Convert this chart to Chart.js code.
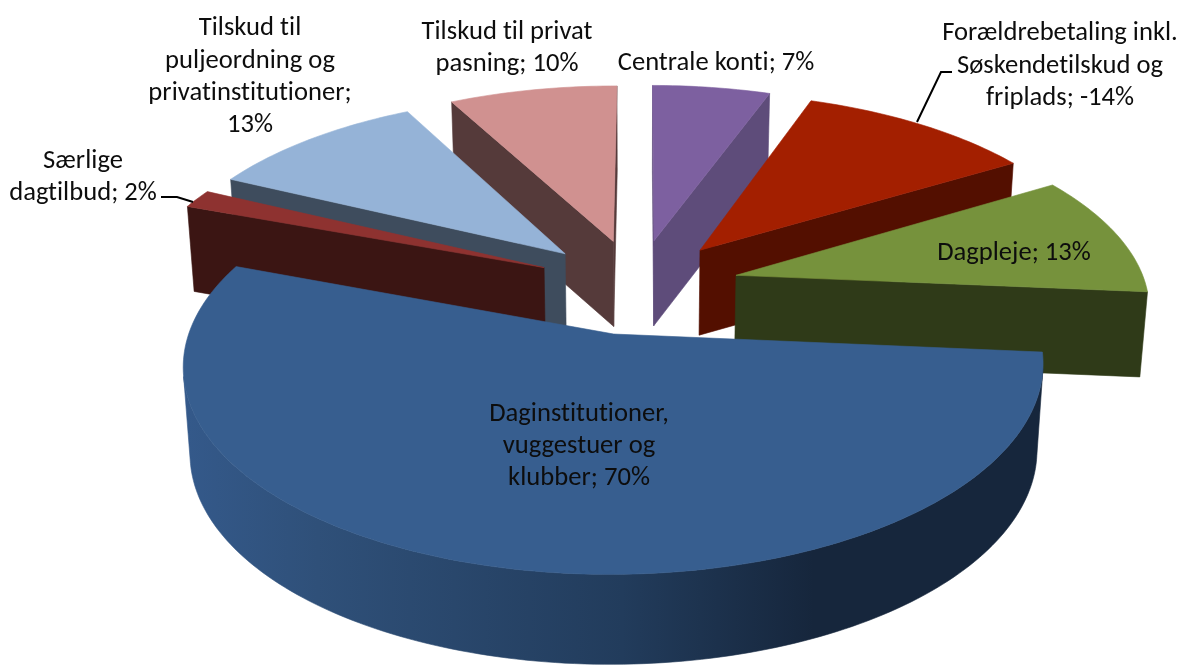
<!DOCTYPE html>
<html><head><meta charset="utf-8">
<style>html,body{margin:0;padding:0;background:#fff}canvas{display:block}</style>
<script src="https://cdn.jsdelivr.net/npm/chart.js@4/dist/chart.umd.min.js"></script>
</head><body><canvas id="c" width="1181" height="666"></canvas>
<script>
const categories = ["Daginstitutioner, vuggestuer og klubber","Særlige dagtilbud","Tilskud til puljeordning og privatinstitutioner","Tilskud til privat pasning","Centrale konti","Forældrebetaling inkl. Søskendetilskud og friplads","Dagpleje"];
const signedPercent = [70,2,13,10,7,-14,13];
const sliceSize = signedPercent.map(Math.abs);
const topColors = ["#375e8f","#8e3230","#95b3d7","#d09190","#7d60a0","#a31f00","#76923c"];
const wallColors = ["#223c5e","#3b1513","#3e4c5d","#553a3a","#5e4c7a","#530f00","#2f3a18"];
const labelLines = [
 [["Daginstitutioner,",579,414.5],["vuggestuer og",579,446.5],["klubber; 70%",579,478.5]],
 [["Særlige",83,161.5],["dagtilbud; 2%",83,193.5]],
 [["Tilskud til",250,28.5],["puljeordning og",250,61.5],["privatinstitutioner;",250,93.5],["13%",250,125.5]],
 [["Tilskud til privat",507,32.5],["pasning; 10%",507,64.5]],
 [["Centrale konti; 7%",716,63.5]],
 [["Forældrebetaling inkl.",1060,33.5],["Søskendetilskud og",1060,66.5],["friplads; -14%",1060,98.5]],
 [["Dagpleje; 13%",1014,253.5]]
];
const leaderLines = [[[161,197],[177,197],[193,202]],[[952,72],[941,72],[917,122]]];
const view = {dx:46.5,dy:-47,kx:410/333,ky:190/333,persp:0.145,explode:0.25,wall:85,wallFront:4,taper:0.015};

const pie3d = {
  id:'pie3d',
  beforeDatasetsDraw(chart){
    const ctx = chart.ctx, arcs = chart.getDatasetMeta(0).data;
    const r0 = arcs[0].outerRadius, cx = arcs[0].x+view.dx, cy = arcs[0].y+view.dy;
    const A = r0*view.kx, B = r0*view.ky;
    const proj = (u,v,z)=>{const s=1/(1-view.persp*v);
      return [cx+A*u*s*(1-view.taper*z), cy+B*v*s+(view.wall+view.wallFront*Math.max(v,0))*z];};
    const slices = arcs.map((a,i)=>{const m=(a.startAngle+a.endAngle)/2;
      return {i,a0:a.startAngle,a1:a.endAngle,ox:view.explode*Math.cos(m),oy:view.explode*Math.sin(m)};});
    slices.sort((p,q)=>Math.sin((p.a0+p.a1)/2)-Math.sin((q.a0+q.a1)/2));
    const poly=(pts,fill)=>{ctx.beginPath();pts.forEach((p,k)=>k?ctx.lineTo(p[0],p[1]):ctx.moveTo(p[0],p[1]));ctx.closePath();
      ctx.fillStyle=fill;ctx.strokeStyle=fill;ctx.lineWidth=0.6;ctx.fill();ctx.stroke();};
    const area=q=>{let s=0;q.forEach((p,k)=>{const n=q[(k+1)%q.length];s+=p[0]*n[1]-n[0]*p[1];});return s;};
    const blueGrad=ctx.createLinearGradient(cx-450,0,cx+420,0);
    blueGrad.addColorStop(0,"#34598a");blueGrad.addColorStop(0.15,"#2f5079");blueGrad.addColorStop(0.5,"#223c5c");
    blueGrad.addColorStop(0.72,"#16263c");blueGrad.addColorStop(1,"#16263c");
    ctx.save();
    slices.forEach(sl=>{
      const pt=(t,z)=>proj(sl.ox+Math.cos(t),sl.oy+Math.sin(t),z), tip=z=>proj(sl.ox,sl.oy,z);
      const n=Math.ceil((sl.a1-sl.a0)/0.02), rim=[];
      for(let k=0;k<=n;k++)rim.push(sl.a0+(sl.a1-sl.a0)*k/n);
      const wall=wallColors[sl.i];
      const faces=[[tip(0),pt(sl.a0,0),pt(sl.a0,1),tip(1)],[pt(sl.a1,0),tip(0),tip(1),pt(sl.a1,1)]];
      faces.forEach(q=>{if(area(q)<0)poly(q,wall);});
      let run=[];
      const flush=()=>{if(run.length>1)poly([...run.map(t=>pt(t,0)),...run.slice().reverse().map(t=>pt(t,1))],sl.i===0?blueGrad:wall);run=[];};
      for(let k=0;k<n;k++){const q=[pt(rim[k],0),pt(rim[k+1],0),pt(rim[k+1],1),pt(rim[k],1)];
        if(area(q)<0){if(!run.length)run.push(rim[k]);run.push(rim[k+1]);}else flush();}
      flush();
      poly([tip(0),...rim.map(t=>pt(t,0))],topColors[sl.i]);
    });
    ctx.strokeStyle="#000";ctx.lineWidth=2;
    leaderLines.forEach(l=>{ctx.beginPath();l.forEach((p,k)=>k?ctx.lineTo(p[0],p[1]):ctx.moveTo(p[0],p[1]));ctx.stroke();});
    ctx.fillStyle="#0d0d0d";ctx.font='26.6px Carlito, Lato, sans-serif';ctx.letterSpacing='0.01px';ctx.textAlign='center';ctx.textBaseline='middle';
    labelLines.flat().forEach(l=>ctx.fillText(l[0],l[1],l[2]));
    ctx.restore();
    return false;
  }
};
new Chart(document.getElementById('c'),{
  type:'pie',
  data:{labels:categories,datasets:[{data:sliceSize,backgroundColor:topColors,borderWidth:0}]},
  options:{responsive:false,animation:false,rotation:95,layout:{padding:0},
    plugins:{legend:{display:false},tooltip:{enabled:false}}},
  plugins:[pie3d]
});
</script></body></html>
